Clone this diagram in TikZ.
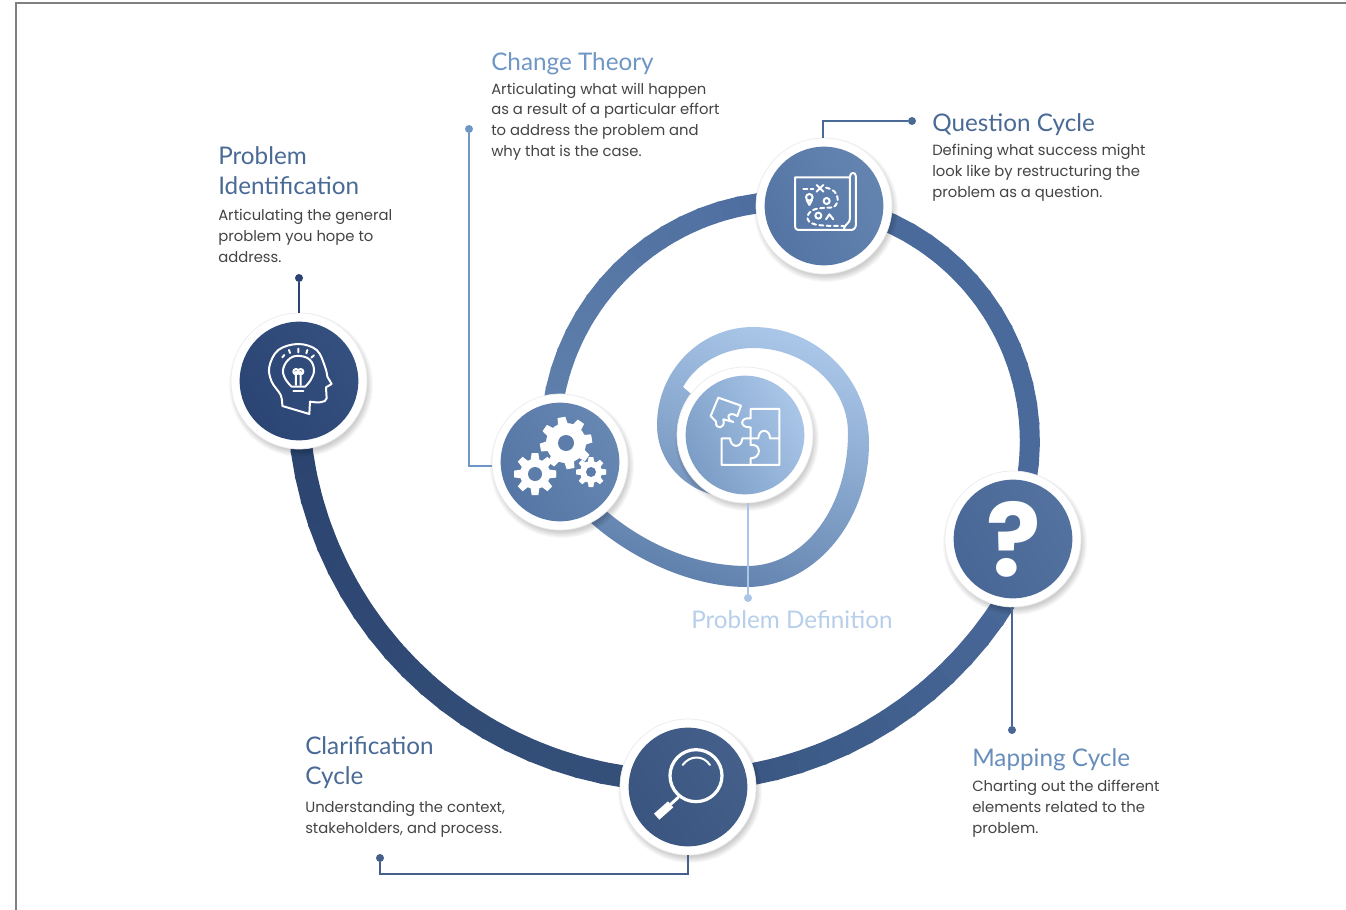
\documentclass[tikz,border=0pt]{standalone}
\usepackage{fontspec}
\setmainfont{Poppins}
\newfontfamily\headfont{Lato}
\newfontfamily\qfont{Poppins}
\definecolor{headA}{HTML}{4A6A96}
\definecolor{headB}{HTML}{6F97C6}
\definecolor{headC}{HTML}{B7CFEA}
\definecolor{bodytxt}{HTML}{444444}
\definecolor{bulbA}{HTML}{2B4473}\definecolor{bulbB}{HTML}{34507F}
\definecolor{lensA}{HTML}{3A5680}\definecolor{lensB}{HTML}{44608A}
\definecolor{qA}{HTML}{486796}\definecolor{qB}{HTML}{54729F}
\definecolor{mapA}{HTML}{5475A4}\definecolor{mapB}{HTML}{6484B0}
\definecolor{gearA}{HTML}{5677A5}\definecolor{gearB}{HTML}{6687B2}
\definecolor{puzA}{HTML}{7C9DC6}\definecolor{puzB}{HTML}{A9C6E8}
\definecolor{arcA}{HTML}{2C4470}\definecolor{arcB}{HTML}{345079}\definecolor{arcC}{HTML}{4A6A9C}
\definecolor{arcD}{HTML}{5F80AC}
\tikzset{
  ringnode/.style={circle,inner sep=0pt,minimum size=102pt,fill=white,draw=black!8,line width=.5pt},
  discnode/.style={circle,inner sep=0pt,minimum size=89pt},
  heading/.style={anchor=base west,inner sep=0pt,align=left,font=\headfont\fontsize{18.2}{22}\selectfont},
  bodytext/.style={anchor=base west,inner sep=0pt,align=left,text=bodytxt,font=\fontsize{11.1}{15.4}\selectfont},
  leader/.style={line width=1.5pt},
  dotnode/.style={circle,inner sep=0pt,minimum size=6pt},
  icon/.style={draw=white,line width=1.5pt,line cap=round,line join=round},
  dashicon/.style={icon,dash pattern=on 3pt off 2.5pt},
}
\newcommand{\bigdisc}[5]{%
  \foreach \k in {0,1,...,6}{\fill[black,opacity=.028] ({#2+2},{#3+4}) circle[radius={66+\k}];}
  \node[ringnode] (#1) at (#2,#3) {};
  \node[discnode,left color=#4,right color=#5,shading angle=120] (#1disc) at (#2,#3) {};
}
\newcommand{\bandarc}[9]{%
  \foreach \s in {0,1,...,39}{%
    \pgfmathsetmacro{\ta}{#4+(#5-#4)*\s/40}
    \pgfmathsetmacro{\tb}{#4+(#5-#4)*(\s+1.15)/40}
    \pgfmathsetmacro{\p}{\s<20?100-\s*5:0}
    \pgfmathsetmacro{\q}{\s<20?0:(\s-20)*5}
    \ifdim\p pt>0pt \colorlet{segcol}{#7!\p!#8}\else\colorlet{segcol}{#9!\q!#8}\fi
    \draw[line width=#6,segcol] ({#1+#3*cos(\ta)},{#2+#3*sin(\ta)}) -- ({#1+#3*cos(\tb)},{#2+#3*sin(\tb)});
  }
}
\newcommand{\gearicon}[7]{%
  \foreach \a in {0,1,...,#6}{%
    \pgfmathsetmacro{\ang}{\a*360/#6+#7}
    \fill[white,rotate around={\ang:(#1,#2)}] ({#1+#4-1},{#2-#5*0.62}) -- ({#1+#3},{#2-#5*0.48}) -- ({#1+#3},{#2+#5*0.48}) -- ({#1+#4-1},{#2+#5*0.62}) -- cycle;
  }
  \fill[white] (#1,#2) circle[radius=#4];
  \fill[gearA!60!gearB] (#1,#2) circle[radius=#5];
}
\begin{document}
\begin{tikzpicture}[x=.75pt,y=-.75pt]
\path[use as bounding box,fill=white] (0,0) rectangle (1346,910);
\draw[black!50,line width=1.4pt] (16,910) -- (16,3) -- (1346,3);
% bands
\bandarc{681}{398}{383}{176}{28}{16.5pt}{arcA}{arcB}{arcC}
\bandarc{790}{441}{240}{15}{-172}{15pt}{arcC}{arcC}{arcD}
\shade[left color=arcD,middle color=puzB!88!arcD,right color=puzB,shading angle=160]
 (590,522) .. controls (635,562) and (695,587) .. (747,587)
 .. controls (814,587) and (869,522) .. (869,443)
 .. controls (869,379) and (817,327) .. (753,327)
 .. controls (700,327) and (657,371) .. (657,425)
 .. controls (657,465) and (690,495) .. (728,497)
 -- (745,440) -- (683,387)
 .. controls (697,362) and (725,348) .. (753,348)
 .. controls (805,348) and (848,386) .. (848,433)
 .. controls (848,507) and (805,566) .. (747,566)
 .. controls (690,566) and (640,540) .. (605,510) -- cycle;
% discs
\bigdisc{bulb}{299}{381}{bulbA}{bulbB}
\bigdisc{lens}{688}{787}{lensA}{lensB}
\bigdisc{qmarkc}{1013}{539}{qA}{qB}
\bigdisc{map}{824}{206}{mapA}{mapB}
\bigdisc{gears}{560}{462}{gearA}{gearB}
\bigdisc{puzzle}{745}{435}{puzA}{puzB}
% leaders
\node[dotnode,fill=bulbA] (d1) at (299,278) {};
\draw[leader,bulbA] (d1) -- (bulb.north);
\node[dotnode,fill=headB] (d2) at (469,129) {};
\draw[leader,headB] (d2) |- (gears.183.5);
\node[dotnode,fill=headA] (d3) at (912,121) {};
\draw[leader,headA] (d3) -| (map.91);
\node[dotnode,fill=puzB] (d4) at (748,598) {};
\draw[leader,puzB] (d4 |- puzzle.south) -- (d4);
\node[dotnode,fill=qA] (d5) at (1012,730) {};
\draw[leader,qA] (d5 |- qmarkc.south) -- (d5);
\node[dotnode,fill=lensB] (d6) at (380,858) {};
\draw[leader,lensB] (lens.south) |- (380,874) -- (d6);
% question mark
\node[text=white,inner sep=0pt,font={\qfont\bfseries\fontsize{76}{76}\selectfont}] (qm) at (1014,539) {?};
% gears
\gearicon{566}{443}{26}{20}{8}{8}{10}
\gearicon{535}{474}{21}{15}{7}{8}{0}
\gearicon{591}{472}{15}{11}{5}{8}{0}
% lens
\begin{scope}[shift={(610,710)},scale=.3333]
\draw[icon,line width=2.4pt] (258,197) circle[radius=78];
\draw[icon] (218,165) .. controls (240,135) and (280,135) .. (300,165);
\draw[icon,line width=2.2pt] (205,262) -- (182,283);
\draw[white,line width=6pt] (182,283) -- (140,320);
\end{scope}
% map
\begin{scope}[shift={(750,100)},scale=.3333]
\draw[icon] (135,232) -- (300,232) (135,232) -- (135,375) .. controls (135,388) and (140,390) .. (150,390) -- (305,390) .. controls (315,388) and (318,380) .. (318,370) -- (318,230) .. controls (318,215) and (300,215) .. (300,230) -- (300,355) .. controls (300,370) and (285,372) .. (282,385);
\draw[dashicon] (160,266) -- (190,266);
\draw[icon] (200,255) -- (220,275) (220,255) -- (200,275);
\draw[dashicon] (228,263) .. controls (270,270) and (270,310) .. (250,322) .. controls (220,325) and (180,320) .. (172,350) .. controls (172,375) and (200,378) .. (280,378);
\draw[icon] (178,292) circle[radius=10] (170,300) -- (178,315) -- (186,300);
\draw[icon] (230,303) circle[radius=9];
\draw[icon] (205,347) circle[radius=9];
\draw[icon] (228,358) -- (238,343) -- (250,358);
\end{scope}
% head and bulb
\begin{scope}[shift={(220,270)},scale=.3333]
\draw[icon] plot[smooth,tension=.6] coordinates {(187,408) (182,375) (155,335) (148,290) (175,240) (235,222) (290,240) (315,290) (322,320)} -- (335,342) -- (318,352) -- (320,385) .. controls (318,400) and (290,398) .. (270,395) -- (268,432) -- cycle;
\draw[icon] plot[smooth,tension=.7] coordinates {(215,350) (195,325) (190,295) (210,265) (240,258) (270,270) (282,300) (272,330) (255,350)} -- (215,350);
\draw[icon] (220,362) -- (250,362);
\draw[icon] (228,345) -- (228,305) (242,345) -- (242,305) (228,305) circle[radius=8] (242,305) circle[radius=8];
\draw[icon] (187,262) -- (193,255) (207,240) -- (210,249) (235,236) -- (235,247) (262,240) -- (259,250) (282,256) -- (274,263);
\end{scope}
% puzzle
\begin{scope}[shift={(640,310)},scale=.3333]
\draw[icon] (332,325) -- (332,297) -- (418,297) -- (418,465) -- (245,465) -- (245,385) -- (270,385) .. controls (272,415) and (305,415) .. (307,385) -- (355,385) .. controls (355,355) and (390,355) .. (390,385) -- (418,385);
\draw[icon] (332,325) .. controls (298,320) and (298,355) .. (332,352) -- (332,405) .. controls (365,400) and (365,445) .. (332,445) -- (332,465);
\draw[icon] (235,263) -- (303,287) -- (292,318) .. controls (262,300) and (255,330) .. (280,336) -- (250,328) .. controls (258,358) and (225,360) .. (228,335) -- (212,318) -- cycle;
\end{scope}
% texts
\node[heading,text=headB] (t1) at (491,70) {Change Theory};
\node[bodytext] (b1) at (491,156) {Articulating what will happen\\as a result of a particular effort\\to address the problem and\\why that is the case.};
\node[heading,text=headA] (t2) at (932,131) {Question Cycle};
\node[bodytext] (b2) at (932,197) {Defining what success might\\look like by restructuring the\\problem as a question.};
\node[heading,text=headA] (t3) at (218,194) {Problem\\Identification};
\node[bodytext] (b3) at (218,262) {Articulating the general\\problem you hope to\\address.};
\node[heading,text=headA] (t4) at (305,784) {Clarification\\Cycle};
\node[bodytext] (b4) at (305,833) {Understanding the context,\\stakeholders, and process.};
\node[heading,text=headB!80!headA] (t5) at (972,766) {Mapping Cycle};
\node[bodytext] (b5) at (972,833) {Charting out the different\\elements related to the\\problem.};
\node[heading,text=headC] (t6) at (691,628) {Problem Definition};
\end{tikzpicture}
\end{document}
